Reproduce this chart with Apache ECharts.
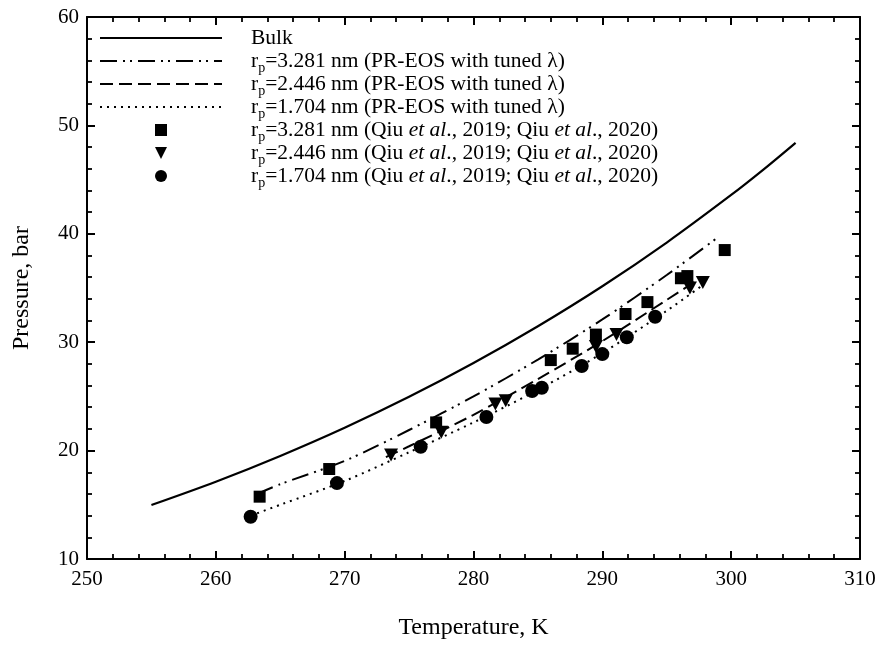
<!DOCTYPE html>
<html>
<head>
<meta charset="utf-8">
<script src="https://cdn.jsdelivr.net/npm/echarts@6/dist/echarts.min.js"></script>
<style>
html,body{margin:0;padding:0;background:#fff;}
#chart{width:881px;height:645px;}
</style>
</head>
<body>
<div id="chart"></div>
<script>
// ---- data ----
const bulkT = [255, 260, 265, 270, 275, 280, 285, 290, 295, 300, 302.5, 305];
const bulkP = [14.98, 17.13, 19.51, 22.11, 24.96, 28.08, 31.47, 35.16, 39.19, 43.58, 45.92, 48.39];

const eos3281T = [263.2, 265, 270, 275, 280, 285, 290, 295, 299];
const eos3281P = [16.0, 16.9, 19.05, 21.9, 25.0, 28.4, 32.1, 36.2, 39.7];

const eos2446T = [273.2, 275, 280, 285, 290, 295, 297.6];
const eos2446P = [19.4, 20.4, 23.3, 26.6, 30.1, 33.9, 35.9];

const eos1704T = [262.7, 265, 270, 275, 280, 285, 290, 295, 297.6];
const eos1704P = [14.0, 15.0, 17.2, 19.85, 22.6, 25.6, 29.0, 32.9, 35.1];

const exp3281T = [263.4, 268.8, 277.1, 286.0, 287.7, 289.5, 291.8, 293.5, 296.1, 296.6, 299.5];
const exp3281P = [15.75, 18.3, 22.6, 28.35, 29.4, 30.7, 32.6, 33.7, 35.9, 36.1, 38.5];

const exp2446T = [273.6, 277.5, 281.7, 282.5, 289.5, 291.1, 296.8, 297.8];
const exp2446P = [19.6, 21.7, 24.3, 24.6, 29.6, 30.7, 35.0, 35.5];

const exp1704T = [262.7, 269.4, 275.9, 281.0, 284.55, 285.3, 288.4, 290.0, 291.9, 294.1];
const exp1704P = [13.9, 17.0, 20.35, 23.1, 25.5, 25.8, 27.8, 28.9, 30.45, 32.35];

const xTicks = {min: 250, max: 310, interval: 10};
const yTicks = {min: 10, max: 60, interval: 10};

const pair = (xs, ys) => xs.map((x, i) => [x, ys[i]]);

const FONT = 'Liberation Serif';
const K = '#000';

const legendNames = {
  'Bulk': '{g|}{t|Bulk}',
  'EOS 3.281': '{g|}{t|r}{s|p}{t|=3.281 nm (PR-EOS with tuned λ)}',
  'EOS 2.446': '{g|}{t|r}{s|p}{t|=2.446 nm (PR-EOS with tuned λ)}',
  'EOS 1.704': '{g|}{t|r}{s|p}{t|=1.704 nm (PR-EOS with tuned λ)}',
  'Exp 3.281': '{h|}{t|r}{s|p}{t|=3.281 nm (Qiu }{i|et al}{t|., 2019; Qiu }{i|et al}{t|., 2020)}',
  'Exp 2.446': '{h|}{t|r}{s|p}{t|=2.446 nm (Qiu }{i|et al}{t|., 2019; Qiu }{i|et al}{t|., 2020)}',
  'Exp 1.704': '{h|}{t|r}{s|p}{t|=1.704 nm (Qiu }{i|et al}{t|., 2019; Qiu }{i|et al}{t|., 2020)}'
};

const rich = {
  g: {width: 24, height: 28, lineHeight: 28},
  h: {width: 79, height: 28, lineHeight: 28},
  t: {fontFamily: FONT, fontSize: 21.5, color: K, lineHeight: 22, verticalAlign: 'middle'},
  i: {fontFamily: FONT, fontSize: 21.5, color: K, lineHeight: 22, verticalAlign: 'middle', fontStyle: 'italic'},
  s: {fontFamily: FONT, fontSize: 14, color: K, lineHeight: 14, verticalAlign: 'top', padding: [14, 0, 0, 0]}
};

function axisCommon(showLabel) {
  return {
    type: 'value',
    axisLine: {show: true, onZero: false, lineStyle: {color: K, width: 2}},
    axisTick: {show: true, inside: true, length: 8, lineStyle: {color: K, width: 2}},
    minorTick: {show: true, splitNumber: 5, length: 5, lineStyle: {color: K, width: 1.8}},
    splitLine: {show: false},
    axisLabel: {show: showLabel, color: K, fontFamily: FONT, fontSize: 21}
  };
}

const chart = echarts.init(document.getElementById('chart'), null, {renderer: 'canvas'});
chart.setOption({
  animation: false,
  backgroundColor: '#fff',
  grid: {left: 87, right: 21, top: 17, bottom: 86, containLabel: false},
  xAxis: [
    Object.assign(axisCommon(true), xTicks, {
      position: 'bottom',
      name: 'Temperature, K', nameLocation: 'middle', nameGap: 57,
      nameTextStyle: {color: K, fontFamily: FONT, fontSize: 24},
      axisLabel: {show: true, color: K, fontFamily: FONT, fontSize: 21, margin: 10}
    }),
    Object.assign(axisCommon(false), xTicks, {position: 'top'})
  ],
  yAxis: [
    Object.assign(axisCommon(true), yTicks, {
      position: 'left',
      name: 'Pressure, bar', nameLocation: 'middle', nameGap: 53,
      nameTextStyle: {color: K, fontFamily: FONT, fontSize: 24},
      axisLabel: {show: true, color: K, fontFamily: FONT, fontSize: 21, margin: 8}
    }),
    Object.assign(axisCommon(false), yTicks, {position: 'right'})
  ],
  legend: [
    {
      data: ['Bulk', 'EOS 3.281', 'EOS 2.446', 'EOS 1.704'],
      orient: 'vertical', left: 99, top: 24, padding: 0,
      itemWidth: 122, itemHeight: 14, itemGap: -5,
      selectedMode: false,
      itemStyle: {opacity: 0},
      formatter: n => legendNames[n],
      textStyle: {rich: rich}
    },
    {
      data: ['Exp 3.281', 'Exp 2.446', 'Exp 1.704'],
      orient: 'vertical', left: 155, top: 116, padding: 0,
      itemWidth: 12, itemHeight: 12, itemGap: -5,
      selectedMode: false,
      formatter: n => legendNames[n],
      textStyle: {rich: rich}
    }
  ],
  series: [
    {name: 'Bulk', type: 'line', data: pair(bulkT, bulkP), symbol: 'none', smooth: 0.3,
     lineStyle: {color: K, width: 2.2, type: 'solid'}, itemStyle: {color: K}, z: 2},
    {name: 'EOS 3.281', type: 'line', data: pair(eos3281T, eos3281P), symbol: 'none', smooth: 0.3,
     lineStyle: {color: K, width: 2, type: [17, 6, 2, 5, 2, 6]}, itemStyle: {color: K}, z: 2},
    {name: 'EOS 2.446', type: 'line', data: pair(eos2446T, eos2446P), symbol: 'none', smooth: 0.3,
     lineStyle: {color: K, width: 2, type: [13, 6]}, itemStyle: {color: K}, z: 2},
    {name: 'EOS 1.704', type: 'line', data: pair(eos1704T, eos1704P), symbol: 'none', smooth: 0.3,
     lineStyle: {color: K, width: 2, type: [2, 5]}, itemStyle: {color: K}, z: 2},
    {name: 'Exp 3.281', type: 'scatter', data: pair(exp3281T, exp3281P), symbol: 'rect', symbolSize: 12,
     itemStyle: {color: K, opacity: 1}, z: 3},
    {name: 'Exp 2.446', type: 'scatter', data: pair(exp2446T, exp2446P),
     symbol: 'path://M0,0 L10,0 L5,10 Z', symbolSize: [14, 13],
     itemStyle: {color: K, opacity: 1}, z: 3},
    {name: 'Exp 1.704', type: 'scatter', data: pair(exp1704T, exp1704P), symbol: 'circle', symbolSize: 14,
     itemStyle: {color: K, opacity: 1}, z: 3}
  ]
});
</script>
</body>
</html>
